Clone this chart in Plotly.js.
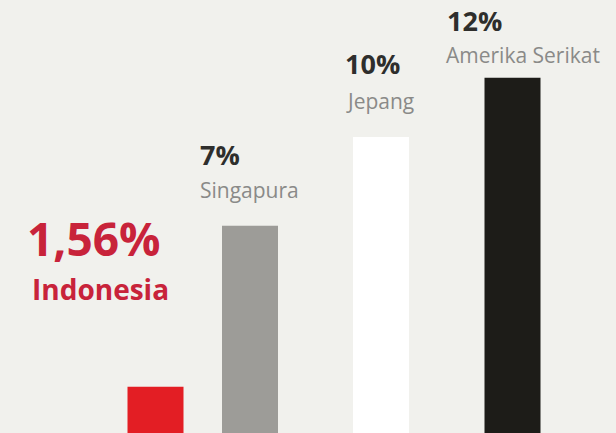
<!DOCTYPE html>
<html>
<head>
<meta charset="utf-8">
<script src="https://cdn.plot.ly/plotly-3.0.1.min.js"></script>
<style>html,body{margin:0;padding:0;background:#f1f1ed;}#chart{width:616px;height:433px;}</style>
</head>
<body>
<div id="chart"></div>
<script>
// Data
const countries = ["Indonesia", "Singapura", "Jepang", "Amerika Serikat"];
const values = [1.56, 7, 10, 12];
const valueLabels = ["1,56%", "7%", "10%", "12%"];

// Layout / style (not data)
const barCenters = [155.5, 250, 381, 512.5];
const barColors = ["#e31e24", "#9d9c98", "#ffffff", "#1d1c18"];
const valueLabelPos = [[26, 238], [199, 155], [344, 63], [446, 21]];
const nameLabelPos = [[31, 289], [199, 190], [345, 101], [445, 55]];
const valueFont = [
  {family: "Open Sans", size: 46, color: "#c8233a", weight: 700},
  {family: "Open Sans", size: 27, color: "#2e2e2c", weight: 700},
  {family: "Open Sans", size: 27, color: "#2e2e2c", weight: 700},
  {family: "Open Sans", size: 27, color: "#2e2e2c", weight: 700}
];
const nameFont = [
  {family: "Open Sans", size: 28, color: "#c8233a", weight: 700},
  {family: "Open Sans", size: 21, color: "#8a8a88"},
  {family: "Open Sans", size: 21, color: "#8a8a88"},
  {family: "Open Sans", size: 21, color: "#8a8a88"}
];

const W = 616, H = 433;
const trace = {
  type: "bar",
  x: barCenters,
  y: values,
  width: 56,
  marker: {color: barColors, line: {width: 0}},
  hoverinfo: "none",
  text: countries,
  textposition: "none"
};

const annotations = [];
for (let i = 0; i < countries.length; i++) {
  annotations.push({
    xref: "paper", yref: "paper",
    x: valueLabelPos[i][0] / W, y: 1 - valueLabelPos[i][1] / H,
    xanchor: "left", yanchor: "middle",
    text: valueLabels[i], showarrow: false, font: valueFont[i], borderpad: 0
  });
  annotations.push({
    xref: "paper", yref: "paper",
    x: nameLabelPos[i][0] / W, y: 1 - nameLabelPos[i][1] / H,
    xanchor: "left", yanchor: "middle",
    text: countries[i], showarrow: false, font: nameFont[i], borderpad: 0
  });
}

const layout = {
  width: W, height: H,
  margin: {l: 0, r: 0, t: 0, b: 0},
  paper_bgcolor: "#f1f1ed",
  plot_bgcolor: "#f1f1ed",
  showlegend: false,
  xaxis: {range: [0, W], visible: false, fixedrange: true},
  yaxis: {range: [0, 14.63], visible: false, fixedrange: true},
  annotations: annotations
};

Plotly.newPlot("chart", [trace], layout, {displayModeBar: false, staticPlot: true});
</script>
</body>
</html>
